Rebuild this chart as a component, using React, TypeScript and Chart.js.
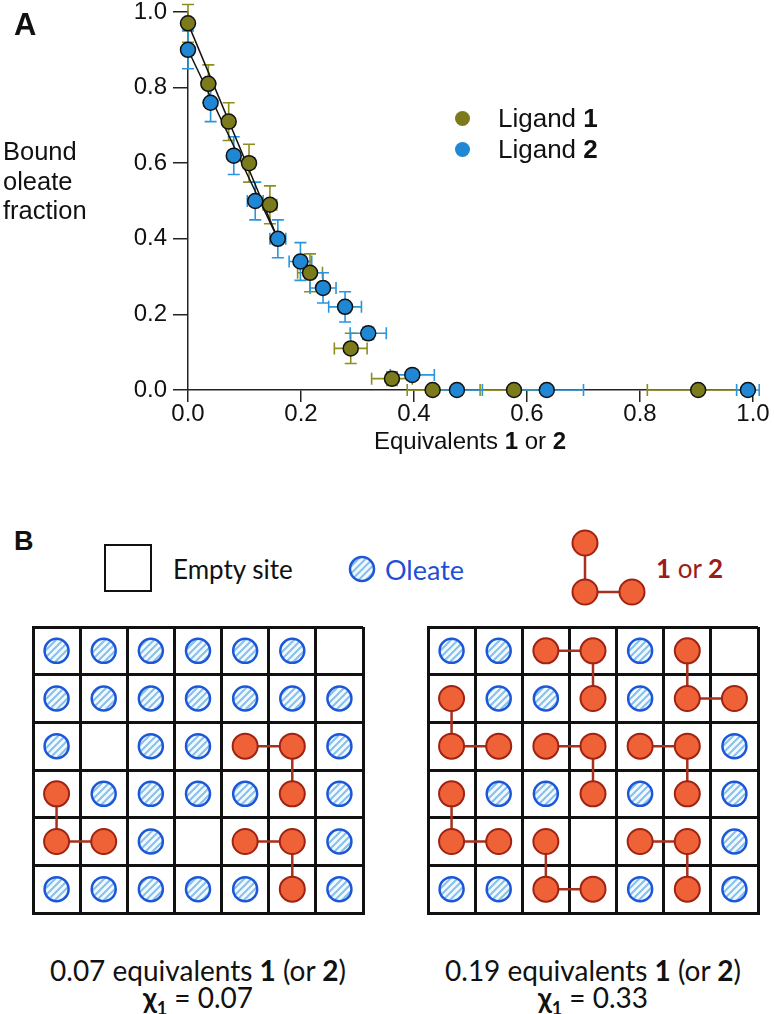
import React, { useEffect, useRef } from "react";
import { Chart, registerables } from "chart.js";
Chart.register(...registerables);

// ---------- Panel A data ----------
const xTicks = [0, 0.2, 0.4, 0.6, 0.8, 1.0];
const yTicks = [0, 0.2, 0.4, 0.6, 0.8, 1.0];

const lig1X = [0, 0.036, 0.072, 0.108, 0.145, 0.216, 0.288, 0.361, 0.433, 0.577, 0.903];
const lig1Y = [0.97, 0.81, 0.71, 0.6, 0.49, 0.31, 0.11, 0.03, 0, 0, 0];
const lig1Xerr = [0, 0.005, 0.008, 0.01, 0.012, 0.022, 0.029, 0.036, 0.045, 0.06, 0.09];
const lig1Yerr = [0.05, 0.05, 0.05, 0.05, 0.05, 0.05, 0.04, 0.018, 0, 0, 0];

const lig2X = [0, 0.04, 0.081, 0.119, 0.159, 0.199, 0.239, 0.278, 0.319, 0.397, 0.476, 0.635, 0.991];
const lig2Y = [0.9, 0.76, 0.62, 0.5, 0.4, 0.34, 0.27, 0.22, 0.15, 0.04, 0, 0, 0];
const lig2Xerr = [0, 0.004, 0.008, 0.014, 0.014, 0.02, 0.023, 0.029, 0.032, 0.039, 0.045, 0.065, 0.02];
const lig2Yerr = [0.05, 0.05, 0.05, 0.05, 0.05, 0.05, 0.04, 0.04, 0.016, 0.012, 0, 0, 0];

const fit1X = [0, 0.159];
const fit1Y = [0.97, 0.4];
const fit2X = [0, 0.159];
const fit2Y = [0.9, 0.4];

// ---------- Panel B data ----------
const gridLeftRows = ["OOOOOOE", "OOOOOOO", "OEOOLLO", "LOOOOLO", "LLOELLO", "OOOOOLO"];
const ligandsLeft = [
  [[2, 4], [2, 5], [3, 5]],
  [[3, 0], [4, 0], [4, 1]],
  [[4, 4], [4, 5], [5, 5]],
];
const gridRightRows = ["OOLLOLE", "LOOLOLL", "LLLLLLO", "LOOLOLO", "LLLELLO", "OOLLOLO"];
const ligandsRight = [
  [[0, 2], [0, 3], [1, 3]],
  [[0, 5], [1, 5], [1, 6]],
  [[1, 0], [2, 0], [2, 1]],
  [[2, 2], [2, 3], [3, 3]],
  [[2, 4], [2, 5], [3, 5]],
  [[3, 0], [4, 0], [4, 1]],
  [[4, 2], [5, 2], [5, 3]],
  [[4, 4], [4, 5], [5, 5]],
];

const OLIVE = "#7b7b1b";
const OLIVE_ERR = "#8e8e20";
const BLUE = "#1f87d3";
const BLUE_ERR = "#2a95dd";
const LIG_FILL = "#ef6136";
const LIG_EDGE = "#9f2212";
const LIG_LINE = "#a8301f";
const OLE_EDGE = "#1b57d8";
const HATCH = "#86c0ec";

const FONT_A = '"Liberation Sans", Arial, sans-serif';
const FONT_B = 'Lato, "Open Sans", sans-serif';

const pts = (xs: number[], ys: number[]) => xs.map((x, i) => ({ x, y: ys[i] }));

function ChartA() {
  const ref = useRef<HTMLCanvasElement>(null);
  useEffect(() => {
    const errorBars = {
      id: "errorBars",
      beforeDatasetsDraw(chart: any) {
        const { ctx } = chart;
        const xs = chart.scales.x;
        const ys = chart.scales.y;
        const series = [
          { X: lig1X, Y: lig1Y, XE: lig1Xerr, YE: lig1Yerr, c: OLIVE_ERR },
          { X: lig2X, Y: lig2Y, XE: lig2Xerr, YE: lig2Yerr, c: BLUE_ERR },
        ];
        ctx.save();
        ctx.lineWidth = 1.6;
        const cap = 6;
        for (const s of series) {
          ctx.strokeStyle = s.c;
          for (let i = 0; i < s.X.length; i++) {
            const px = xs.getPixelForValue(s.X[i]);
            const py = ys.getPixelForValue(s.Y[i]);
            ctx.beginPath();
            if (s.YE[i] > 0) {
              const t = ys.getPixelForValue(s.Y[i] + s.YE[i]);
              const b = ys.getPixelForValue(s.Y[i] - s.YE[i]);
              ctx.moveTo(px, t); ctx.lineTo(px, b);
              ctx.moveTo(px - cap, t); ctx.lineTo(px + cap, t);
              ctx.moveTo(px - cap, b); ctx.lineTo(px + cap, b);
            }
            if (s.XE[i] > 0) {
              const l = xs.getPixelForValue(s.X[i] - s.XE[i]);
              const r = xs.getPixelForValue(s.X[i] + s.XE[i]);
              ctx.moveTo(l, py); ctx.lineTo(r, py);
              ctx.moveTo(l, py - cap); ctx.lineTo(l, py + cap);
              ctx.moveTo(r, py - cap); ctx.lineTo(r, py + cap);
            }
            ctx.stroke();
          }
        }
        ctx.restore();
      },
    };
    const tickFont = { family: FONT_A, size: 24 };
    const chart = new Chart(ref.current!, {
      type: "scatter",
      data: {
        datasets: [
          { data: pts(fit1X, fit1Y), showLine: true, borderColor: "#111", borderWidth: 1.5, pointRadius: 0, order: 3 } as any,
          { data: pts(fit2X, fit2Y), showLine: true, borderColor: "#111", borderWidth: 1.5, pointRadius: 0, order: 3 } as any,
          { label: "Ligand 1", data: pts(lig1X, lig1Y), backgroundColor: OLIVE, borderColor: "#111", borderWidth: 1.5, pointRadius: 7.5, order: 2 },
          { label: "Ligand 2", data: pts(lig2X, lig2Y), backgroundColor: BLUE, borderColor: "#111", borderWidth: 1.5, pointRadius: 7.5, order: 1 },
        ],
      },
      options: {
        responsive: false,
        animation: false,
        events: [],
        clip: false as any,
        layout: { autoPadding: false, padding: { top: 12, right: 21, left: 0, bottom: 0 } },
        plugins: { legend: { display: false }, tooltip: { enabled: false } },
        scales: {
          x: {
            type: "linear",
            min: 0,
            max: 1,
            afterBuildTicks: (s: any) => { s.ticks = xTicks.map((v) => ({ value: v })); },
            afterFit: (s: any) => { s.height = 60; s.paddingLeft = 0; s.paddingRight = 0; },
            ticks: { font: tickFont, color: "#111", padding: -2, callback: (v: any) => Number(v).toFixed(1) },
            grid: { drawOnChartArea: false, drawTicks: true, tickLength: 12, color: "#222", lineWidth: 1.5 },
            border: { color: "#222", width: 1.5 },
          },
          y: {
            type: "linear",
            min: 0,
            max: 1,
            afterBuildTicks: (s: any) => { s.ticks = yTicks.map((v) => ({ value: v })); },
            afterFit: (s: any) => { s.width = 188; s.paddingTop = 0; s.paddingBottom = 0; },
            ticks: { font: tickFont, color: "#111", padding: 6, callback: (v: any) => Number(v).toFixed(1) },
            grid: { drawOnChartArea: false, drawTicks: true, tickLength: 15, color: "#222", lineWidth: 1.5 },
            border: { color: "#222", width: 1.5 },
          },
        },
      },
      plugins: [errorBars],
    });
    return () => chart.destroy();
  }, []);
  return <canvas ref={ref} width={774} height={450} style={{ position: "absolute", left: 0, top: 0, width: 774, height: 450 }} />;
}

function makeHatch(ctx: CanvasRenderingContext2D) {
  const s = 7;
  const c = document.createElement("canvas");
  c.width = s; c.height = s;
  const g = c.getContext("2d")!;
  g.fillStyle = "#f4f9fe";
  g.fillRect(0, 0, s, s);
  g.strokeStyle = HATCH;
  g.lineWidth = 2;
  g.beginPath();
  g.moveTo(-2, 2); g.lineTo(2, -2);
  g.moveTo(0, s); g.lineTo(s, 0);
  g.moveTo(s - 2, s + 2); g.lineTo(s + 2, s - 2);
  g.stroke();
  return ctx.createPattern(c, "repeat");
}

function GridChart({ rows, ligands, left, top }: { rows: string[]; ligands: number[][][]; left: number; top: number }) {
  const ref = useRef<HTMLCanvasElement>(null);
  useEffect(() => {
    const cv = ref.current!;
    const pattern = makeHatch(cv.getContext("2d")!);
    const oleate: { x: number; y: number }[] = [];
    rows.forEach((row, r) =>
      row.split("").forEach((ch, c) => {
        if (ch === "O") oleate.push({ x: c + 0.5, y: r + 0.5 });
      })
    );
    const ligSets = ligands.map((l) => ({
      data: l.map(([r, c]) => ({ x: c + 0.5, y: r + 0.5 })),
      showLine: true,
      borderColor: LIG_LINE,
      borderWidth: 2.5,
      pointRadius: 12.5,
      pointBackgroundColor: LIG_FILL,
      pointBorderColor: LIG_EDGE,
      pointBorderWidth: 2,
    }));
    const nCols = rows[0].length;
    const nRows = rows.length;
    const chart = new Chart(cv, {
      type: "scatter",
      data: {
        datasets: [
          ...(ligSets as any[]),
          {
            data: oleate,
            pointRadius: 12,
            pointBackgroundColor: pattern as any,
            pointBorderColor: OLE_EDGE,
            pointBorderWidth: 2.5,
          },
        ],
      },
      options: {
        responsive: false,
        animation: false,
        events: [],
        layout: { autoPadding: false, padding: 3 },
        plugins: { legend: { display: false }, tooltip: { enabled: false } },
        scales: {
          x: {
            type: "linear",
            min: 0,
            max: nCols,
            afterFit: (s: any) => { s.height = 0; },
            ticks: { stepSize: 1, display: false },
            grid: { color: "#111", lineWidth: 3, drawTicks: false },
            border: { display: true, color: "#111", width: 3 },
          },
          y: {
            type: "linear",
            min: 0,
            max: nRows,
            reverse: true,
            afterFit: (s: any) => { s.width = 0; },
            ticks: { stepSize: 1, display: false },
            grid: { color: "#111", lineWidth: 3, drawTicks: false },
            border: { display: true, color: "#111", width: 3 },
          },
        },
      },
    });
    return () => chart.destroy();
  }, []);
  return <canvas ref={ref} width={336} height={292} style={{ position: "absolute", left, top, width: 336, height: 292 }} />;
}

function T({ x, y, align = "left", style, children }: any) {
  const tx = align === "center" ? "-50%" : align === "right" ? "-100%" : "0";
  return (
    <div style={{ position: "absolute", left: x, top: y, transform: `translate(${tx}, -50%)`, whiteSpace: "nowrap", lineHeight: 1, ...style }}>
      {children}
    </div>
  );
}

export default function App() {
  const a = { fontFamily: FONT_A, color: "#111" };
  const b = { fontFamily: FONT_B, color: "#111" };
  return (
    <div style={{ position: "absolute", left: 0, top: 0, width: 774, height: 1014, background: "#fff", overflow: "hidden" }}>
      <ChartA />
      <T x={14} y={24} style={{ ...a, fontSize: 31, fontWeight: "bold" }}>A</T>
      <div style={{ position: "absolute", left: 3, top: 137, ...a, fontSize: 25.5, lineHeight: "29.5px" }}>
        Bound<br />oleate<br />fraction
      </div>
      <T x={470} y={441} align="center" style={{ ...a, fontSize: 24 }}>
        Equivalents <b>1</b> or <b>2</b>
      </T>
      <div style={{ position: "absolute", left: 454.5, top: 110.5, width: 15, height: 15, borderRadius: "50%", background: OLIVE }} />
      <div style={{ position: "absolute", left: 454.5, top: 141.5, width: 15, height: 15, borderRadius: "50%", background: BLUE }} />
      <T x={498} y={118} style={{ ...a, fontSize: 26 }}>Ligand <b>1</b></T>
      <T x={498} y={149} style={{ ...a, fontSize: 26 }}>Ligand <b>2</b></T>

      <T x={14} y={541} style={{ ...a, fontSize: 27, fontWeight: "bold" }}>B</T>
      <div style={{ position: "absolute", left: 104, top: 544, width: 44, height: 44, border: "2px solid #111" }} />
      <T x={173} y={569} style={{ ...b, fontSize: 26 }}>Empty site</T>
      <svg style={{ position: "absolute", left: 0, top: 520 }} width={774} height={100}>
        <defs>
          <pattern id="hatchL" patternUnits="userSpaceOnUse" width="5" height="5" patternTransform="rotate(45)">
            <rect width="5" height="5" fill="#f4f9fe" />
            <rect width="2" height="5" fill={HATCH} />
          </pattern>
        </defs>
        <circle cx={362} cy={49} r={12} fill="url(#hatchL)" stroke={OLE_EDGE} strokeWidth={2.5} />
        <line x1={585} y1={23} x2={585} y2={72} stroke={LIG_LINE} strokeWidth={2.5} />
        <line x1={585} y1={72} x2={632} y2={72} stroke={LIG_LINE} strokeWidth={2.5} />
        <circle cx={585} cy={23} r={12.5} fill={LIG_FILL} stroke={LIG_EDGE} strokeWidth={2} />
        <circle cx={585} cy={72} r={12.5} fill={LIG_FILL} stroke={LIG_EDGE} strokeWidth={2} />
        <circle cx={632} cy={72} r={12.5} fill={LIG_FILL} stroke={LIG_EDGE} strokeWidth={2} />
      </svg>
      <T x={385} y={569} style={{ ...b, fontSize: 27, color: "#1f4fd6" }}>Oleate</T>
      <T x={656} y={568} style={{ ...b, fontSize: 26, color: "#9a1c1c" }}>
        <b>1</b> or <b>2</b>
      </T>

      <GridChart rows={gridLeftRows} ligands={ligandsLeft} left={30} top={624} />
      <GridChart rows={gridRightRows} ligands={ligandsRight} left={425} top={624} />

      <T x={198} y={970} align="center" style={{ ...b, fontSize: 28 }}>
        0.07 equivalents <b>1</b> (or <b>2</b>)
      </T>
      <T x={198} y={1000} align="center" style={{ ...b, fontSize: 28 }}>
        <b>χ<sub style={{ fontSize: 18 }}>1</sub></b> = 0.07
      </T>
      <T x={593} y={970} align="center" style={{ ...b, fontSize: 28 }}>
        0.19 equivalents <b>1</b> (or <b>2</b>)
      </T>
      <T x={593} y={1000} align="center" style={{ ...b, fontSize: 28 }}>
        <b>χ<sub style={{ fontSize: 18 }}>1</sub></b> = 0.33
      </T>
    </div>
  );
}
